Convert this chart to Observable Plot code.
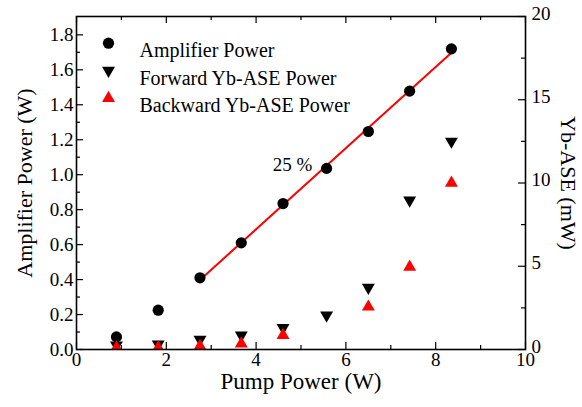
<!DOCTYPE html>
<html><head><meta charset="utf-8">
<script src="https://cdn.jsdelivr.net/npm/d3@7"></script>
<script src="https://cdn.jsdelivr.net/npm/@observablehq/plot@0.6"></script>
<style>
body{margin:0;background:#fff}
#chart{width:582px;height:407px}
</style>
</head><body><div id="chart"></div>
<script>
// ---- data ----
const pumpW      = [0.89, 1.82, 2.75, 3.67, 4.60, 5.57, 6.50, 7.42, 8.35];
const amplifierW = [0.072, 0.225, 0.41, 0.61, 0.835, 1.036, 1.247, 1.478, 1.72];
const forwardMW  = [0.26, 0.32, 0.60, 0.86, 1.30, 2.06, 3.72, 8.96, 12.5];
const backwardMW = [0.10, 0.10, 0.20, 0.35, 0.86, null, 2.56, 4.96, 10.0];
const fitStartW  = 2.75;           // linear fit region (slope label)
const slopeLabel = "25 %";
const xTicks      = [0, 2, 4, 6, 8, 10];
const xMinor      = [1, 3, 5, 7, 9];
const yLeftTicks  = [0, 0.2, 0.4, 0.6, 0.8, 1.0, 1.2, 1.4, 1.6, 1.8];
const yLeftMinor  = [0.1, 0.3, 0.5, 0.7, 0.9, 1.1, 1.3, 1.5, 1.7];
const yRightTicks = [0, 5, 10, 15, 20];
const yRightMinor = [2.5, 7.5, 12.5, 17.5];
const legendLabels = ["Amplifier Power", "Forward Yb-ASE Power", "Backward Yb-ASE Power"];
const legendColors = ["black", "black", "red"];
const legendSymbols = ["circle", "triangle", "triangle"];
const legendRotate = [0, 180, 0];

// ---- layout ----
const W = 582, H = 407;
const mL = 76, mR = 57, mT = 16, mB = 58;
const pw = W - mL - mR, ph = H - mT - mB;
const yMax = 1.905, rMax = 20;
const k = yMax / rMax; // mW -> left-axis units

const amp = pumpW.map((x, i) => ({x, y: amplifierW[i]}));
const fwd = pumpW.map((x, i) => ({x, y: forwardMW[i] * k}));
const bwd = pumpW.map((x, i) => ({x, y: backwardMW[i] == null ? null : backwardMW[i] * k})).filter(d => d.y != null);
const fitData = amp.filter(d => d.x >= fitStartW);

const font = "Liberation Serif";
const major = 7, minor = 4;
const ts = 19; // tick label size

const marks = [
  // inward ticks
  Plot.tickY(yLeftTicks, {y: d => d, insetRight: pw - major, strokeWidth: 1.2}),
  Plot.tickY(yLeftMinor, {y: d => d, insetRight: pw - minor, strokeWidth: 1.2}),
  Plot.tickY(yRightTicks, {y: d => d * k, insetLeft: pw - major, strokeWidth: 1.2}),
  Plot.tickY(yRightMinor, {y: d => d * k, insetLeft: pw - minor, strokeWidth: 1.2}),
  Plot.tickX(xTicks, {x: d => d, insetTop: ph - major, strokeWidth: 1.2}),
  Plot.tickX(xMinor, {x: d => d, insetTop: ph - minor, strokeWidth: 1.2}),
  Plot.tickX(xTicks, {x: d => d, insetBottom: ph - major, strokeWidth: 1.2}),
  Plot.tickX(xMinor, {x: d => d, insetBottom: ph - minor, strokeWidth: 1.2}),
  // tick labels
  Plot.axisY({ticks: yLeftTicks, tickSize: 0, tickPadding: 3, tickFormat: d3.format(".1f"), label: null, fontSize: ts, fontFamily: font}),
  Plot.axisY({anchor: "right", ticks: yRightTicks.map(d => d * k), tickSize: 0, tickPadding: 6, tickFormat: d => Math.round(d / k), label: null, fontSize: ts, fontFamily: font, dy: -3}),
  Plot.axisX({ticks: xTicks, tickSize: 0, tickPadding: 3, label: null, fontSize: ts, fontFamily: font}),
  // axis titles
  Plot.text(["Pump Power (W)"], {frameAnchor: "bottom", dy: 39, fontSize: 23, fontFamily: font, textAnchor: "middle"}),
  Plot.text(["Amplifier Power (W)"], {frameAnchor: "left", dx: -52, rotate: -90, fontSize: 22, fontFamily: font, textAnchor: "middle"}),
  Plot.text(["Yb-ASE (mW)"], {frameAnchor: "right", dx: 43, rotate: 90, fontSize: 22, fontFamily: font, textAnchor: "middle"}),
  // fit line
  Plot.linearRegressionY(fitData, {x: "x", y: "y", stroke: "red", strokeWidth: 2, ci: 0}),
  Plot.text([slopeLabel], {frameAnchor: "top-left", dx: 292 - mL, dy: 157 - mT, fontSize: ts, fontFamily: font, textAnchor: "middle"}),
  // data
  Plot.dot(amp, {x: "x", y: "y", symbol: "circle", r: 5.6, fill: "black", clip: "frame"}),
  Plot.dot(fwd, {x: "x", y: "y", symbol: "triangle", rotate: 180, r: 4.8, fill: "black", clip: "frame"}),
  Plot.dot(bwd, {x: "x", y: "y", symbol: "triangle", r: 4.8, fill: "red", clip: "frame"}),
  Plot.frame({stroke: "black", strokeWidth: 1.6})
];

// legend
legendLabels.forEach((lab, i) => {
  const dy = [26.7, 54, 81.7][i];
  marks.push(Plot.dot([lab], {frameAnchor: "top-left", dx: 108 - mL, dy, symbol: legendSymbols[i], rotate: legendRotate[i], r: i === 0 ? 5.6 : 4.8, fill: legendColors[i]}));
  marks.push(Plot.text([lab], {frameAnchor: "top-left", dx: 139 - mL, dy, textAnchor: "start", fontSize: 20, fontFamily: font}));
});

const chart = Plot.plot({
  width: W, height: H,
  marginLeft: mL, marginRight: mR, marginTop: mT, marginBottom: mB,
  style: {fontSize: "19px", color: "black", background: "white"},
  x: {domain: [0, 10]},
  y: {domain: [0, yMax]},
  marks
});
chart.setAttribute("font-family", font);
document.getElementById("chart").append(chart);
</script></body></html>
